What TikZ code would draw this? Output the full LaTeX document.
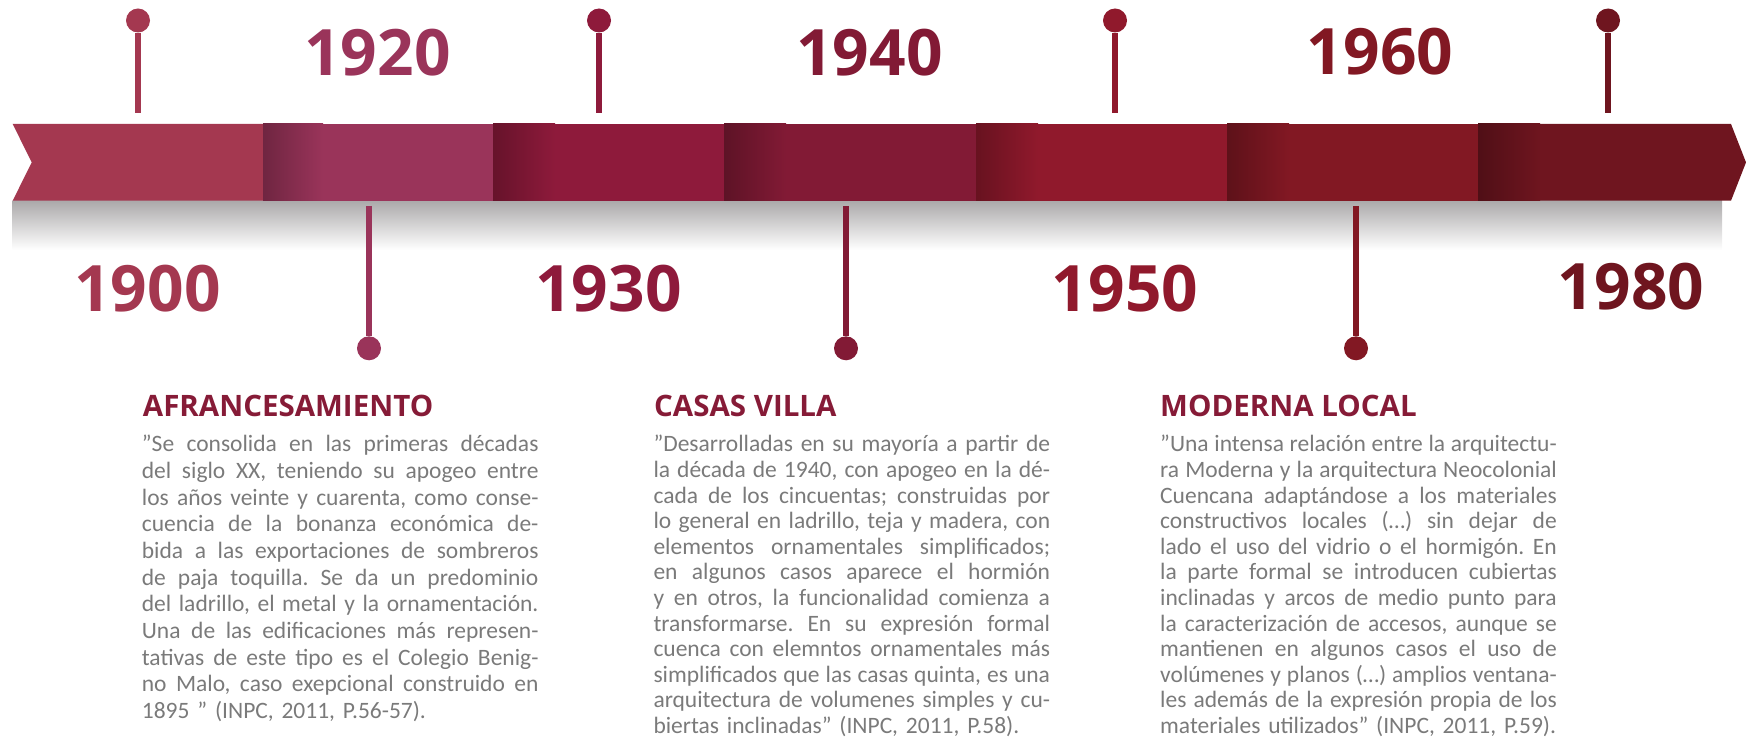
\documentclass[tikz,border=0pt]{standalone}
\usepackage{fontspec}
\setmainfont{Carlito}
\newfontfamily\yearfont{Open Sans}
\definecolor{tlRose}{HTML}{A43850}
\definecolor{tlMauve}{HTML}{9A345A}
\definecolor{tlCrimson}{HTML}{8E1A3B}
\definecolor{tlWine}{HTML}{821A35}
\definecolor{tlRed}{HTML}{90192C}
\definecolor{tlGarnet}{HTML}{821823}
\definecolor{tlMaroon}{HTML}{6F151F}
\definecolor{tlTitle}{HTML}{861B37}
\definecolor{tlText}{HTML}{7A7A7A}
\definecolor{tlShadow}{HTML}{ABA9AA}
\newlength\tlwidth
\setlength\tlwidth{396.6pt}
\tikzset{
  tl stem/.style={line width=5.6pt},
  tl dot/.style={circle, inner sep=0pt, minimum size=24pt},
  tl year/.style={font=\yearfont\bfseries\fontsize{64}{64}\selectfont, inner sep=0pt, anchor=base},
  tl title/.style={font=\yearfont\bfseries\fontsize{29.5}{30}\selectfont, text=tlTitle, inner sep=0pt, anchor=base west},
  tl body/.style={font=\frenchspacing\fontsize{23.5}{#1}\selectfont, text=tlText, text width=\tlwidth, inner sep=0pt, anchor=north west},
  tl body/.default=25.6,
}
% one justified line of a quotation
\newcommand\jline[1]{\makebox[\tlwidth][s]{\spaceskip=0.22em plus 1em minus 0.06em\relax#1}\\}
\newcommand\topline[1]{\jline{\rule{0pt}{24pt}#1}}

\begin{document}
\begin{tikzpicture}[x=1pt,y=-1pt]
  \useasboundingbox (0,0) rectangle (1746,738);
  % Shadow under the band
  \shade[top color=tlShadow, bottom color=white] (12.7,200.7) rectangle (1722,250);
  % Band: seven segments, each one darkened at its left end
  \fill[tlRose] (12.7,124) -- (263,124) -- (263,200.7) -- (12.7,200.7) -- (31.7,162.4) -- cycle;
  \fill[tlMauve] (263,124) rectangle (493,200.7);
  \shade[left color=tlMauve!72!black, right color=tlMauve] (263,124) rectangle (323,200.7);
  \fill[tlCrimson] (493,124) rectangle (724,200.7);
  \shade[left color=tlCrimson!72!black, right color=tlCrimson] (493,124) rectangle (555,200.7);
  \fill[tlWine] (724,124) rectangle (976,200.7);
  \shade[left color=tlWine!72!black, right color=tlWine] (724,124) rectangle (786,200.7);
  \fill[tlRed] (976,124) rectangle (1227,200.7);
  \shade[left color=tlRed!72!black, right color=tlRed] (976,124) rectangle (1038,200.7);
  \fill[tlGarnet] (1227,124) rectangle (1478,200.7);
  \shade[left color=tlGarnet!72!black, right color=tlGarnet] (1227,124) rectangle (1289,200.7);
  \fill[tlMaroon] (1478,124) -- (1731,124) -- (1746,162.4) -- (1731,200.7) -- (1478,200.7) -- cycle;
  \shade[left color=tlMaroon!72!black, right color=tlMaroon] (1478,124) rectangle (1540,200.7);
  % Pins above the band
  \node[tl dot, fill=tlRose] (dot1900) at (138,20.5) {};
  \coordinate (foot1900) at (138,112.7);
  \draw[tl stem, tlRose] (dot1900) -- (foot1900);
  \node[tl dot, fill=tlCrimson] (dot1930) at (599,20.5) {};
  \coordinate (foot1930) at (599,112.7);
  \draw[tl stem, tlCrimson] (dot1930) -- (foot1930);
  \node[tl dot, fill=tlRed] (dot1950) at (1115,20.5) {};
  \coordinate (foot1950) at (1115,112.7);
  \draw[tl stem, tlRed] (dot1950) -- (foot1950);
  \node[tl dot, fill=tlMaroon] (dot1980) at (1608,20.5) {};
  \coordinate (foot1980) at (1608,112.7);
  \draw[tl stem, tlMaroon] (dot1980) -- (foot1980);
  % Pins below the band
  \coordinate (head1920) at (369,206);
  \node[tl dot, fill=tlMauve] (dot1920) at (369,348.3) {};
  \draw[tl stem, tlMauve] (head1920) -- (dot1920);
  \coordinate (head1940) at (846,206);
  \node[tl dot, fill=tlWine] (dot1940) at (846,348.3) {};
  \draw[tl stem, tlWine] (head1940) -- (dot1940);
  \coordinate (head1960) at (1356,206);
  \node[tl dot, fill=tlGarnet] (dot1960) at (1356,348.3) {};
  \draw[tl stem, tlGarnet] (head1960) -- (dot1960);
  % Years
  \node[tl year, text=tlMauve] (y1920) at (377.5,76) {1920};
  \node[tl year, text=tlWine] (y1940) at (869.5,76) {1940};
  \node[tl year, text=tlGarnet] (y1960) at (1380,75) {1960};
  \node[tl year, text=tlRose] (y1900) at (147.5,311.7) {1900};
  \node[tl year, text=tlCrimson] (y1930) at (608.5,311.7) {1930};
  \node[tl year, text=tlRed] (y1950) at (1125,311.7) {1950};
  \node[tl year, text=tlMaroon] (y1980) at (1631,309.5) {1980};
  % Styles and their quotations
  \node[tl title] (afrTitle) at (142.7,416) {AFRANCESAMIENTO};
  \node[tl body=26.67] (afrText) at (141.7,427.7) {%
    \topline{”Se consolida en las primeras décadas}
    \jline{del siglo XX, teniendo su apogeo entre}
    \jline{los años veinte y cuarenta, como conse-}
    \jline{cuencia de la bonanza económica de-}
    \jline{bida a las exportaciones de sombreros}
    \jline{de paja toquilla. Se da un predominio}
    \jline{del ladrillo, el metal y la ornamentación.}
    \jline{Una de las edificaciones más represen-}
    \jline{tativas de este tipo es el Colegio Benig-}
    \jline{no Malo, caso exepcional construido en}
    1895 ” (INPC, 2011, P.56-57).};
  \node[tl title] (villaTitle) at (654,416) {CASAS VILLA};
  \node[tl body] (villaText) at (653.3,427.7) {%
    \topline{”Desarrolladas en su mayoría a partir de}
    \jline{la década de 1940, con apogeo en la dé-}
    \jline{cada de los cincuentas; construidas por}
    \jline{lo general en ladrillo, teja y madera, con}
    \jline{elementos ornamentales simplificados;}
    \jline{en algunos casos aparece el hormión}
    \jline{y en otros, la funcionalidad comienza a}
    \jline{transformarse. En su expresión formal}
    \jline{cuenca con elemntos ornamentales más}
    \jline{simplificados que las casas quinta, es una}
    \jline{arquitectura de volumenes simples y cu-}
    biertas inclinadas” (INPC, 2011, P.58).};
  \node[tl title] (localTitle) at (1160,416) {MODERNA LOCAL};
  \node[tl body] (localText) at (1160,427.7) {%
    \topline{”Una intensa relación entre la arquitectu-}
    \jline{ra Moderna y la arquitectura Neocolonial}
    \jline{Cuencana adaptándose a los materiales}
    \jline{constructivos locales (…) sin dejar de}
    \jline{lado el uso del vidrio o el hormigón. En}
    \jline{la parte formal se introducen cubiertas}
    \jline{inclinadas y arcos de medio punto para}
    \jline{la caracterización de accesos, aunque se}
    \jline{mantienen en algunos casos el uso de}
    \jline{volúmenes y planos (…) amplios ventana-}
    \jline{les además de la expresión propia de los}
    materiales utilizados” (INPC, 2011, P.59).};
\end{tikzpicture}
\end{document}
